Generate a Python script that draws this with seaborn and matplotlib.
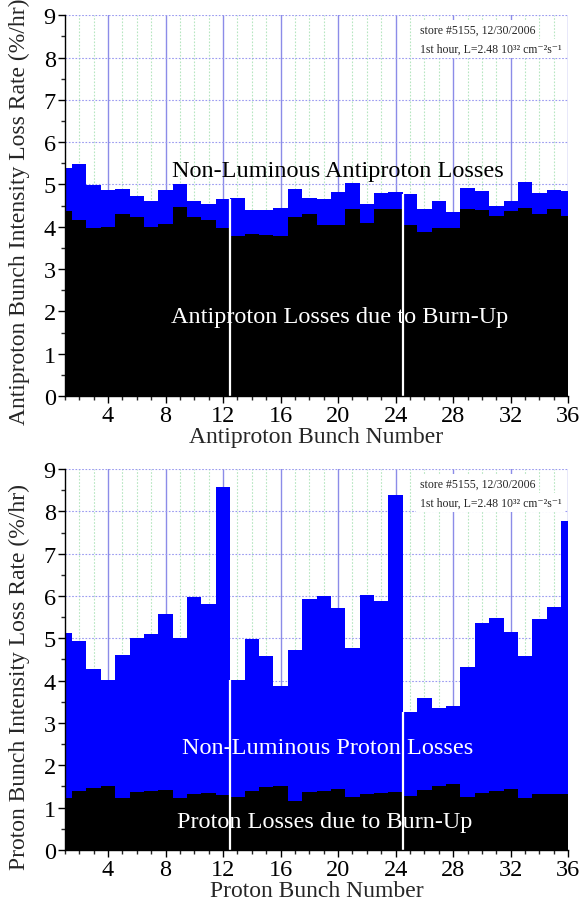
import numpy as np
import pandas as pd
import matplotlib
matplotlib.use("Agg")
import matplotlib.pyplot as plt
import seaborn as sns
from matplotlib.ticker import MultipleLocator, FixedLocator

# ---------------- data ----------------
bunch = list(range(1, 37))

pbar_total = [5.39, 5.48, 4.99, 4.87, 4.89, 4.73, 4.60, 4.87, 5.01, 4.62, 4.53, 4.65,
              4.67, 4.40, 4.39, 4.45, 4.90, 4.69, 4.65, 4.82, 5.04, 4.54, 4.79, 4.81,
              4.78, 4.42, 4.61, 4.34, 4.92, 4.84, 4.48, 4.62, 5.05, 4.80, 4.86, 4.84]
pbar_burnup = [4.37, 4.15, 3.97, 4.00, 4.29, 4.24, 3.99, 4.06, 4.47, 4.24, 4.17, 3.96,
               3.78, 3.82, 3.81, 3.79, 4.24, 4.29, 4.04, 4.04, 4.42, 4.09, 4.43, 4.43,
               4.04, 3.88, 3.96, 3.96, 4.43, 4.40, 4.26, 4.38, 4.45, 4.31, 4.43, 4.26]

p_total = [5.13, 4.94, 4.27, 4.02, 4.61, 5.01, 5.09, 5.57, 5.00, 5.97, 5.81, 8.57,
           4.01, 4.99, 4.57, 3.88, 4.72, 5.94, 5.99, 5.72, 4.76, 6.03, 5.88, 8.39,
           3.25, 3.59, 3.35, 3.39, 4.33, 5.36, 5.48, 5.15, 4.57, 5.45, 5.75, 7.77]
p_burnup = [1.22, 1.39, 1.46, 1.52, 1.22, 1.36, 1.40, 1.41, 1.22, 1.32, 1.34, 1.30,
            1.26, 1.39, 1.48, 1.50, 1.16, 1.36, 1.40, 1.44, 1.24, 1.32, 1.35, 1.36,
            1.28, 1.41, 1.50, 1.55, 1.26, 1.34, 1.40, 1.44, 1.22, 1.33, 1.33, 1.33]

train_gaps = [12.5, 24.5]   # gaps between bunch trains
x_ticks = [4, 8, 12, 16, 20, 24, 28, 32, 36]

store_line1 = "store #5155, 12/30/2006"
store_line2 = "1st hour, L=2.48 10\u00b3\u00b2 cm\u207b\u00b2s\u207b\u00b9"

# ---------------- style ----------------
sns.set_style("white")
plt.rcParams["font.family"] = ["Liberation Serif", "DejaVu Serif"]

BLUE = "#0000ff"
BLACK = "#000000"
FS_TICK = 17.5
FS_LABEL = 17
FS_ANN = 17.5
FS_STORE = 8.5

fig = plt.figure(figsize=(5.84, 9.03), dpi=100)
ax_top = fig.add_axes([0.111, 0.5604, 0.862, 0.4216])
ax_bot = fig.add_axes([0.111, 0.0578, 0.862, 0.4216])


def panel(ax, total, burn, xlabel, ylabel, ylab_y, upper_text, upper_color, upper_xy,
          lower_text, lower_xy):
    df = pd.DataFrame({"bunch": bunch, "total": total, "burn": burn})
    sns.barplot(data=df, x="bunch", y="total", native_scale=True, width=1,
                color=BLUE, saturation=1, linewidth=0, ax=ax, zorder=2)
    sns.barplot(data=df, x="bunch", y="burn", native_scale=True, width=1,
                color=BLACK, saturation=1, linewidth=0, ax=ax, zorder=3)

    # white gaps between bunch trains
    for g in train_gaps:
        i = int(g - 0.5)  # index of the bunch right of the gap
        h = min(total[i - 1], total[i])
        ax.vlines(g, 0, h, colors="white", linewidth=1.6, zorder=4)

    ax.set_xlim(1, 36)
    ax.set_ylim(0, 9)
    ax.set_axisbelow(True)

    ax.xaxis.set_major_locator(FixedLocator(x_ticks))
    ax.set_xticklabels([str(t) for t in x_ticks])
    ax.xaxis.set_minor_locator(MultipleLocator(1))
    ax.yaxis.set_major_locator(MultipleLocator(1))
    ax.yaxis.set_minor_locator(MultipleLocator(0.5))

    # grid lines
    for xv in range(1, 37):
        if xv % 4 == 0:
            ax.axvline(xv, color="#8c8ce8", lw=1.0, zorder=0.5)
        else:
            ax.axvline(xv, color="#b6e6c0", lw=0.8, ls=(0, (1.5, 1.5)), zorder=0.5)
    for yv in range(1, 10):
        ax.axhline(yv, color="#9a9af0", lw=0.8, ls=(0, (1.5, 1.5)), zorder=0.5)

    for s in ["top", "right"]:
        ax.spines[s].set_visible(False)
    for s in ["left", "bottom"]:
        ax.spines[s].set_color("black")
        ax.spines[s].set_linewidth(1.0)
        ax.spines[s].set_zorder(6)

    ax.tick_params(axis="both", which="major", direction="out", length=5,
                   width=1, labelsize=FS_TICK, colors="black", pad=1.5,
                   bottom=True, left=True)
    ax.tick_params(axis="both", which="minor", direction="out", length=3,
                   width=1, bottom=True, left=True)

    ax.set_xlabel(xlabel, fontsize=FS_LABEL, labelpad=0)
    ax.set_ylabel(ylabel, fontsize=FS_LABEL)
    ax.yaxis.set_label_coords(-0.07, ylab_y)

    ax.text(upper_xy[0], upper_xy[1], upper_text, color=upper_color,
            fontsize=FS_ANN, ha="center", va="center", zorder=7)
    ax.text(lower_xy[0], lower_xy[1], lower_text, color="white",
            fontsize=FS_ANN, ha="center", va="center", zorder=7)

    ax.text(0.705, 0.962, store_line1, transform=ax.transAxes, fontsize=FS_STORE,
            ha="left", va="center", zorder=7,
            bbox=dict(facecolor="white", edgecolor="none", pad=2.5))
    ax.text(0.705, 0.912, store_line2, transform=ax.transAxes, fontsize=FS_STORE,
            ha="left", va="center", zorder=7,
            bbox=dict(facecolor="white", edgecolor="none", pad=2.5))


panel(ax_top, pbar_total, pbar_burnup, "Antiproton Bunch Number",
      "Antiproton Bunch Intensity Loss Rate (%/hr)", 0.486,
      "Non-Luminous Antiproton Losses", "black", (20.0, 5.32),
      "Antiproton Losses due to Burn-Up", (20.1, 1.87))
panel(ax_bot, p_total, p_burnup, "Proton Bunch Number",
      "Proton Bunch Intensity Loss Rate (%/hr)", 0.457,
      "Non-Luminous Proton Losses", "white", (19.3, 2.43),
      "Proton Losses due to Burn-Up", (19.1, 0.68))

fig.savefig("out.png", dpi=100)
